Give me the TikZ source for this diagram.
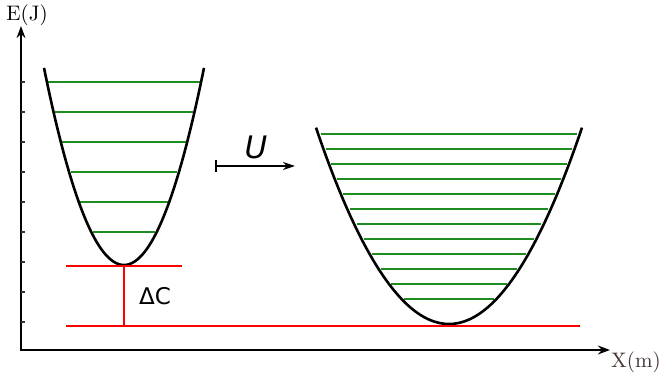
\documentclass[tikz,border=0pt]{standalone}
\usepackage{fontspec}
\usetikzlibrary{arrows.meta}
\newfontfamily\dejavu{DejaVu Sans}
\definecolor{levelgreen}{RGB}{30,140,30}
\definecolor{labelbrown}{RGB}{70,50,50}

\begin{document}
\begin{tikzpicture}[
  x=0.5pt, y=-0.5pt,
  axis/.style={line width=1pt, {Stealth[length=6pt,width=4.4pt]}-{Stealth[length=6pt,width=4.4pt]}},
  tick/.style={line width=0.6pt, black!80},
  well/.style={line width=1.3pt, black},
  level/.style={line width=0.65pt, levelgreen},
  gap/.style={line width=0.8pt, red},
  lbl/.style={font=\fontsize{10.5}{12}\selectfont, inner sep=0pt}
]
\useasboundingbox (0,0) rectangle (660,379);

% Axes
\coordinate (ytip) at (21,26);
\coordinate (xtip) at (610,350);
\draw[axis] (ytip) |- (xtip);
\foreach \t in {82,112,...,322} {
  \draw[tick] (21,\t) -- (25,\t);
}
\node[lbl] (elabel) at (27,15) {E(J)};
\node[lbl, text=labelbrown] (xlabel) at (636,362) {X(m)};

% Left well: 6 levels
\foreach \k in {0,...,5} {
  \pgfmathsetmacro\dy{183-30*\k}
  \pgfmathsetmacro\dx{sqrt(\dy)*5.698-1.5}
  \draw[level] ({124-\dx},{265-\dy}) -- ({124+\dx},{265-\dy});
}
\draw[well] plot[domain=-80:80, samples=80] ({124+\x},{265-(0.1755*\x)^2});

% Right well: 12 levels
\foreach \k in {0,...,11} {
  \pgfmathsetmacro\dy{190-15*\k}
  \pgfmathsetmacro\dx{sqrt(\dy)*9.492-2.5}
  \draw[level] ({449-\dx},{324-\dy}) -- ({449+\dx},{324-\dy});
}
\draw[well] plot[domain=-133:133, samples=100] ({449+\x},{324-(0.10536*\x)^2});

% Energy gap
\coordinate (gtop) at (124,266);
\coordinate (gbot) at (124,326);
\draw[gap] (66,266) -- (182,266);
\draw[gap] (66,326) -- (580,326);
\draw[gap] (gtop) -- (gbot);
\node[inner sep=0pt, font=\dejavu\fontsize{11.5}{14}\selectfont] (dc) at (155,296) {ΔC};

% Transformation
\coordinate (ustart) at (215,166);
\coordinate (uend) at (295,166);
\draw[line width=0.8pt, {Bar[width=6pt]}-{Stealth[length=6pt,width=4pt]}] (ustart) -- (uend);
\node[inner sep=0pt, font=\dejavu\itshape\fontsize{15.5}{18}\selectfont] (ulabel) at (256,147) {U};
\end{tikzpicture}
\end{document}
